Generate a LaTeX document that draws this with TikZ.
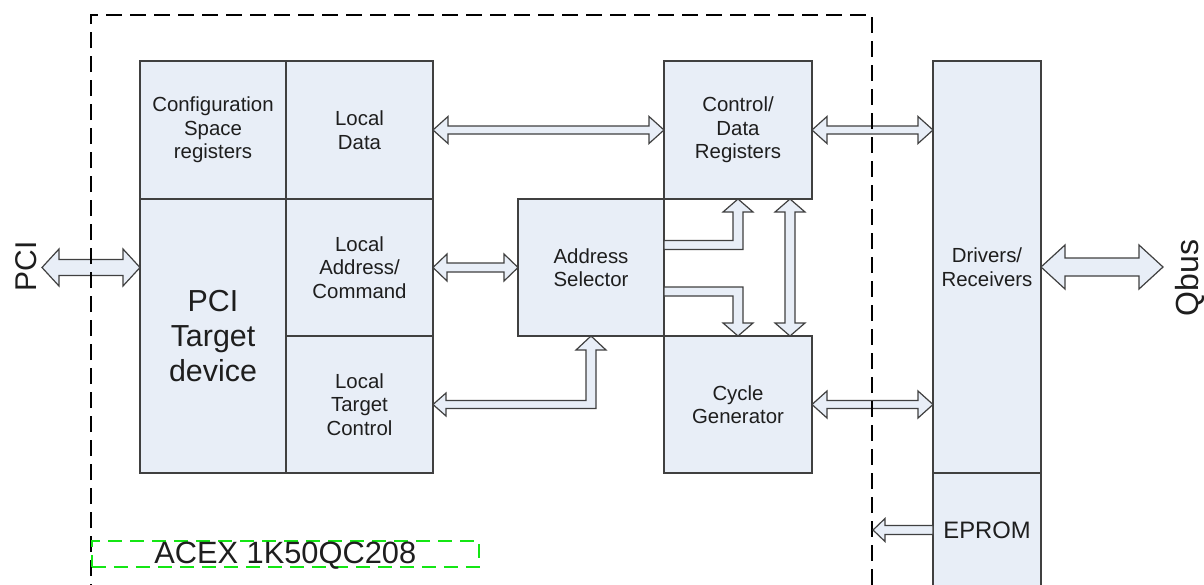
\documentclass[tikz,border=0pt]{standalone}
\usepackage{fontspec}
\setmainfont{Liberation Sans}
\usetikzlibrary{calc}

\definecolor{boxfill}{RGB}{232,238,247}
\definecolor{boxline}{RGB}{64,64,64}
\definecolor{labeltext}{RGB}{30,30,30}
\definecolor{fpgagreen}{RGB}{20,230,20}

% fat double bus arrow: left/top end, right/bottom end, shaft half width, head half width, head length
\newcommand{\hbus}[5]{%
  \draw[bus] (#1) -- ($(#1)+(#5,-#4)$) -- ($(#1)+(#5,-#3)$) -- ($(#2)+(-#5,-#3)$)
    -- ($(#2)+(-#5,-#4)$) -- (#2) -- ($(#2)+(-#5,#4)$) -- ($(#2)+(-#5,#3)$)
    -- ($(#1)+(#5,#3)$) -- ($(#1)+(#5,#4)$) -- cycle;}
\newcommand{\vbus}[5]{%
  \draw[bus] (#1) -- ($(#1)+(-#4,#5)$) -- ($(#1)+(-#3,#5)$) -- ($(#2)+(-#3,-#5)$)
    -- ($(#2)+(-#4,-#5)$) -- (#2) -- ($(#2)+(#4,-#5)$) -- ($(#2)+(#3,-#5)$)
    -- ($(#1)+(#3,#5)$) -- ($(#1)+(#4,#5)$) -- cycle;}

\begin{document}
\begin{tikzpicture}[x=0.5pt,y=-0.5pt,
    blk/.style={draw=boxline,fill=boxfill,line width=0.7pt,inner sep=0pt,outer sep=0pt,
      anchor=north west,align=center,text=labeltext,
      font=\fontsize{10.2}{11.75}\selectfont},
    bus/.style={draw=boxline,fill=boxfill,line width=0.6pt,line join=miter},
    chip/.style={draw=black,line width=0.75pt,dash pattern=on 8pt off 4pt},
    fpga/.style={draw=fpgagreen,line width=0.75pt,dash pattern=on 7pt off 4pt,
      anchor=north west,inner sep=0pt,text height=10pt,text depth=0pt,text=labeltext,
      font=\fontsize{15.4}{17}\selectfont},
    buslabel/.style={rotate=90,text=labeltext,font=\fontsize{15}{17}\selectfont}]
  \useasboundingbox (0,0) rectangle (1204,584);
  \clip (0,0) rectangle (1204,584);

  % FPGA blocks
  \node[blk,minimum width=73pt,minimum height=69pt] (cfg) at (140,61) {Configuration\\Space\\registers};
  \node[blk,minimum width=73.5pt,minimum height=69pt] (ldata) at (286,61) {Local\\Data};
  \node[blk,minimum width=73pt,minimum height=137pt,font=\fontsize{15.2}{17.5}\selectfont] (pci) at (140,199) {PCI\\Target\\device};
  \node[blk,minimum width=73.5pt,minimum height=68.5pt] (laddr) at (286,199) {Local\\Address/\\Command};
  \node[blk,minimum width=73.5pt,minimum height=68.5pt] (ltc) at (286,336) {Local\\Target\\Control};
  \node[blk,minimum width=74pt,minimum height=69pt] (cdr) at (664,61) {Control/\\Data\\Registers};
  \node[blk,minimum width=73pt,minimum height=68.5pt] (asel) at (518,199) {Address\\Selector};
  \node[blk,minimum width=74pt,minimum height=68.5pt] (cgen) at (664,336) {Cycle\\Generator};

  % board parts
  \node[blk,minimum width=54pt,minimum height=206pt] (drv) at (933,61) {Drivers/\\Receivers};
  \node[blk,minimum width=54pt,minimum height=57pt,font=\fontsize{11.9}{14}\selectfont] (eprom) at (933,473) {EPROM};

  % outside buses
  \node[buslabel] (pcilbl) at (26,266.5) {PCI};
  \node[buslabel,font=\fontsize{16}{18}\selectfont] (qbuslbl) at (1190,278) {Qbus};
  \coordinate (pciend) at (42,267.5);
  \coordinate (qbusend) at (1163,267);

  % buses
  \hbus{pciend}{pciend -| pci.west}{8}{18.5}{17}
  \hbus{ldata.east}{cdr.west}{4}{13.5}{15}
  \hbus{laddr.east}{asel.west}{4.5}{13.5}{14}
  \hbus{cdr.east}{cdr.east -| drv.west}{4}{13.5}{15}
  \hbus{cgen.east}{cgen.east -| drv.west}{4}{13.5}{15}
  \hbus{drv.east}{qbusend}{9}{22}{24}

  \coordinate (vtop) at ($(cdr.south east)+(-22,0)$);
  \coordinate (vbot) at (vtop |- cgen.north);
  \vbus{vtop}{vbot}{5}{15}{13}

  % address selector outputs
  \draw[bus] ($(asel.east)+(0,-27)$) -- ($(cdr.south)+(-5,41.5)$) -- ($(cdr.south)+(-5,13)$)
    -- ($(cdr.south)+(-15,13)$) -- (cdr.south) -- ($(cdr.south)+(15,13)$)
    -- ($(cdr.south)+(5,13)$) -- ($(cdr.south)+(5,50.5)$) -- ($(asel.east)+(0,-18)$) -- cycle;
  \draw[bus] ($(asel.east)+(0,19.5)$) -- ($(cgen.north)+(5,-49)$) -- ($(cgen.north)+(5,-13)$)
    -- ($(cgen.north)+(15,-13)$) -- (cgen.north) -- ($(cgen.north)+(-15,-13)$)
    -- ($(cgen.north)+(-5,-13)$) -- ($(cgen.north)+(-5,-40)$) -- ($(asel.east)+(0,28.5)$) -- cycle;
  \draw[bus] (ltc.east) -- ($(ltc.east)+(13,-11.5)$) -- ($(ltc.east)+(13,-4)$)
    -- ($(asel.south)+(-5,64.5)$) -- ($(asel.south)+(-5,14)$) -- ($(asel.south)+(-15,14)$)
    -- (asel.south) -- ($(asel.south)+(15,14)$) -- ($(asel.south)+(5,14)$)
    -- ($(asel.south)+(5,72.5)$) -- ($(ltc.east)+(13,4)$) -- ($(ltc.east)+(13,11.5)$) -- cycle;

  % FPGA outline
  \coordinate (chipnw) at (91,15);
  \coordinate (chipne) at (872,15);
  \draw[chip] (91,600) -- (chipnw) -- (chipne) -- (872,600);
  \node[fpga,minimum width=193.5pt,minimum height=13pt] (fpga) at (91,540) {ACEX 1K50QC208};

  % EPROM to FPGA
  \coordinate (epromtip) at ($(eprom.west -| chipne)+(1,0)$);
  \draw[bus] ($(eprom.west)+(0,-4.5)$) -- ($(epromtip)+(12,-4.5)$) -- ($(epromtip)+(12,-11.5)$)
    -- (epromtip) -- ($(epromtip)+(12,11.5)$) -- ($(epromtip)+(12,4.5)$) -- ($(eprom.west)+(0,4.5)$) -- cycle;
\end{tikzpicture}
\end{document}
